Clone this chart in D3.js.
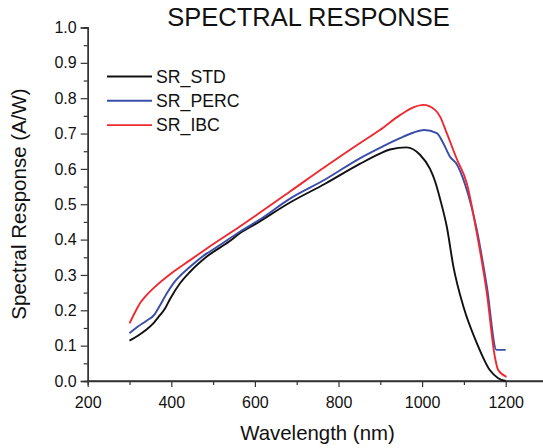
<!DOCTYPE html>
<html><head><meta charset="utf-8">
<script src="https://cdn.jsdelivr.net/npm/d3@7"></script>
<style>body{margin:0;background:#fff}svg{display:block}text{font-family:"Liberation Sans",Arial,sans-serif;fill:#111}</style>
</head><body>
<svg id="c" width="543" height="448"></svg>
<script>
const seriesNames = ["SR_STD", "SR_PERC", "SR_IBC"];
const seriesColors = ["#111111", "#3a4da8", "#ee2a30"];
const stdWl  = [300,320,340,357,370,385,397,420,445,485,540,564,600,684,768,851,899,923,963,995,1019,1031,1043,1059,1075,1099,1131,1162,1182,1200];
const stdSR  = [0.114,0.128,0.145,0.163,0.182,0.205,0.232,0.275,0.309,0.352,0.396,0.418,0.443,0.505,0.558,0.614,0.643,0.655,0.661,0.640,0.600,0.565,0.515,0.437,0.323,0.210,0.107,0.031,0.008,0.0];
const percWl = [300,320,340,361,369,392,405,445,485,500,564,612,684,768,851,900,947,980,1005,1035,1051,1067,1083,1103,1131,1155,1178,1200];
const percSR = [0.135,0.154,0.170,0.190,0.206,0.253,0.276,0.323,0.361,0.372,0.422,0.457,0.516,0.570,0.630,0.660,0.687,0.703,0.710,0.701,0.672,0.634,0.613,0.555,0.427,0.267,0.088,0.088];
const ibcWl  = [300,318,325,337,357,405,445,485,564,684,768,850,899,947,979,1003,1031,1043,1059,1083,1107,1131,1155,1174,1182,1202];
const ibcSR  = [0.163,0.205,0.220,0.238,0.262,0.309,0.342,0.375,0.437,0.536,0.606,0.672,0.710,0.752,0.774,0.781,0.767,0.748,0.701,0.628,0.559,0.418,0.248,0.069,0.031,0.012];
const xTicks = [200,400,600,800,1000,1200];
const xMinor = [300,500,700,900,1100];
const yTicks = [0,0.1,0.2,0.3,0.4,0.5,0.6,0.7,0.8,0.9,1.0];
const yMinor = [0.05,0.15,0.25,0.35,0.45,0.55,0.65,0.75,0.85,0.95];

const svg = d3.select("#c");
const x = d3.scaleLinear().domain([200,1300]).range([87.7,547.5]);
const y = d3.scaleLinear().domain([0,1]).range([381,27.5]);

const gx = svg.append("g").attr("transform","translate(0,381)");
gx.call(d3.axisBottom(x).tickValues(xTicks).tickSize(6).tickFormat(d3.format("d")));
gx.append("g").call(d3.axisBottom(x).tickValues(xMinor).tickSize(4).tickFormat(""));
const gy = svg.append("g").attr("transform","translate(87.7,0)");
gy.call(d3.axisLeft(y).tickValues(yTicks).tickSize(7).tickFormat(d3.format(".1f")));
gy.append("g").call(d3.axisLeft(y).tickValues(yMinor).tickSize(4).tickFormat(""));
svg.selectAll(".domain").attr("stroke","#333").attr("stroke-width",1.4);
svg.selectAll(".tick line").attr("stroke","#333").attr("stroke-width",1.2);
gx.selectAll(".tick text").attr("font-size",16).attr("y",26.5).attr("dy",0).attr("fill","#111");
gy.selectAll(".tick text").attr("font-size",16).attr("x",-11).attr("fill","#111");
svg.selectAll(".tick text").style("font-family",'"Liberation Sans",Arial,sans-serif');
gx.select(".domain").attr("d",`M${x(200)},0H543`);

const data = [d3.zip(stdWl,stdSR), d3.zip(percWl,percSR), d3.zip(ibcWl,ibcSR)];
const line = d3.line().x(d=>x(d[0])).y(d=>y(d[1])).curve(d3.curveMonotoneX);
data.forEach((s,i)=>{
  svg.append("path").datum(s).attr("d",line).attr("fill","none")
    .attr("stroke",seriesColors[i]).attr("stroke-width",1.9).attr("stroke-linejoin","round");
});

const lg = svg.append("g");
seriesNames.forEach((n,i)=>{
  const yy = 76.5 + i*24.3;
  lg.append("line").attr("x1",107).attr("x2",152).attr("y1",yy).attr("y2",yy)
    .attr("stroke",seriesColors[i]).attr("stroke-width",1.9);
  lg.append("text").attr("x",156).attr("y",yy+6.3).attr("font-size",17.7).text(n);
});

svg.append("text").attr("x",308.5).attr("y",26).attr("text-anchor","middle")
  .attr("font-size",25.5).text("SPECTRAL RESPONSE");
svg.append("text").attr("x",317.5).attr("y",440).attr("text-anchor","middle")
  .attr("font-size",20.4).text("Wavelength (nm)");
svg.append("text").attr("transform","translate(26,204) rotate(-90)").attr("text-anchor","middle")
  .attr("font-size",20.5).text("Spectral Response (A/W)");
</script>
</body></html>
